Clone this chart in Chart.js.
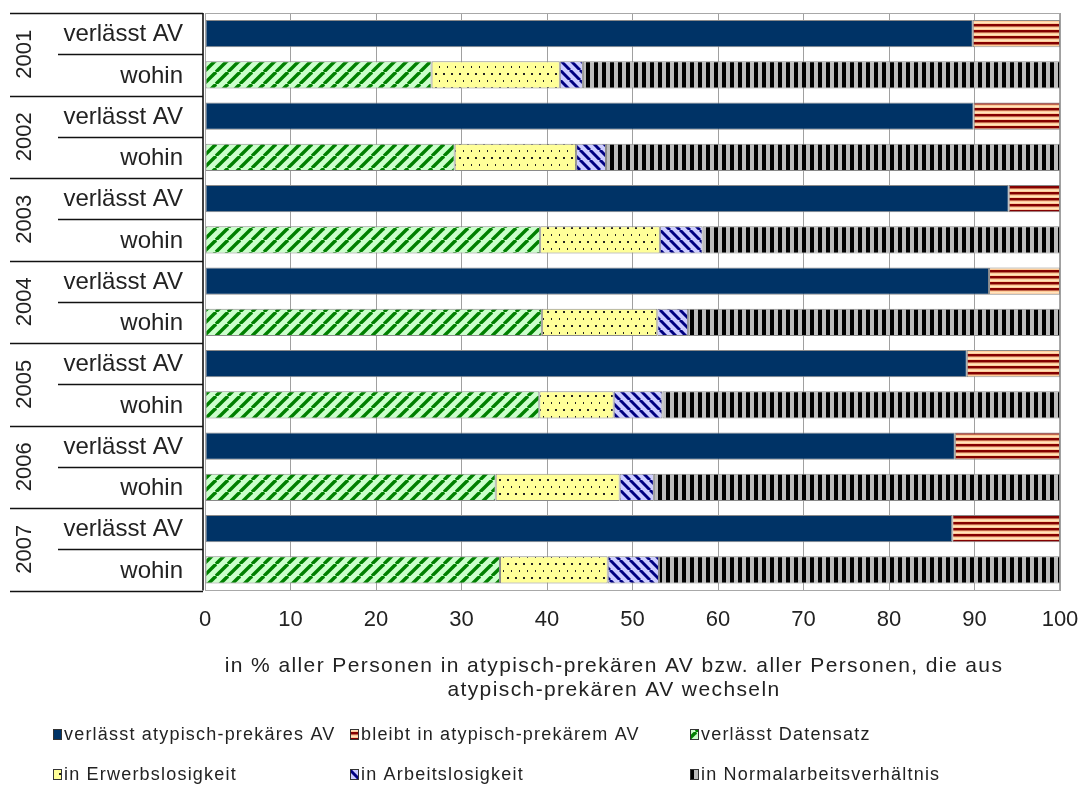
<!DOCTYPE html>
<html>
<head>
<meta charset="utf-8">
<script src="https://cdn.jsdelivr.net/npm/chart.js@4.4.1/dist/chart.umd.min.js"></script>
<style>
  html, body { margin: 0; padding: 0; background: #ffffff; }
  canvas { display: block; }
</style>
</head>
<body>
<canvas id="chart" width="1082" height="787"></canvas>
<script>
// Jahre und Zeilenbeschriftungen
const years = ['2001', '2002', '2003', '2004', '2005', '2006', '2007'];
const rowLabels = ['verlässt AV', 'wohin'];

// Anteile in % (Zeile "verlässt AV")
const verlaesstAV = [89.8, 89.9, 94.0, 91.7, 89.1, 87.7, 87.4];
const bleibtAV    = [10.2, 10.1, 6.0, 8.3, 10.9, 12.3, 12.6];

// Anteile in % (Zeile "wohin")
const verlaesstDatensatz = [26.5, 29.2, 39.2, 39.4, 39.1, 34.0, 34.5];
const erwerbslosigkeit   = [15.0, 14.2, 14.0, 13.5, 8.7, 14.5, 12.6];
const arbeitslosigkeit   = [2.7, 3.5, 5.0, 3.6, 5.7, 4.0, 6.0];
const normalarbeit       = [55.8, 53.1, 41.8, 43.5, 46.5, 47.5, 46.9];

const xTicks = [0, 10, 20, 30, 40, 50, 60, 70, 80, 90, 100];

const seriesNames = [
  'verlässt atypisch-prekäres AV',
  'bleibt in atypisch-prekärem AV',
  'verlässt Datensatz',
  'in Erwerbslosigkeit',
  'in Arbeitslosigkeit',
  'in Normalarbeitsverhältnis'
];

const axisTitle = [
  'in % aller Personen in atypisch-prekären AV bzw. aller Personen, die aus',
  'atypisch-prekären AV wechseln'
];

const FONT = '"Liberation Sans", Arial, sans-serif';

// --- Füllmuster ---------------------------------------------------------
function tile(w, h, draw) {
  const c = document.createElement('canvas');
  c.width = w; c.height = h;
  const g = c.getContext('2d');
  draw(g, w, h);
  return document.createElement('canvas').getContext('2d').createPattern(c, 'repeat');
}

const patRed = tile(6, 6, (g) => {
  g.fillStyle = '#ffcc99'; g.fillRect(0, 0, 6, 6);
  g.fillStyle = '#ffe4c0'; g.fillRect(0, 4, 6, 1);
  g.fillStyle = '#840000'; g.fillRect(0, 0, 6, 2.5);
});

const patGreen = tile(12, 12, (g, w, h) => {
  g.fillStyle = '#ccffcc'; g.fillRect(0, 0, w, h);
  g.strokeStyle = '#008000'; g.lineWidth = 3.4;
  for (let k = -1; k <= 1; k++) {
    g.beginPath(); g.moveTo(k * w, h); g.lineTo(k * w + w, 0); g.stroke();
  }
});

const patYellow = tile(8, 14, (g) => {
  g.fillStyle = '#ffff99'; g.fillRect(0, 0, 8, 14);
  g.fillStyle = '#222222';
  g.fillRect(3, 3, 2, 2);
  g.fillRect(7, 10, 2, 2);
});

const patBlue = tile(10, 10, (g, w, h) => {
  g.fillStyle = '#ccccff'; g.fillRect(0, 0, w, h);
  g.strokeStyle = '#000080'; g.lineWidth = 3;
  for (let k = -1; k <= 1; k++) {
    g.beginPath(); g.moveTo(k * w, 0); g.lineTo(k * w + w, h); g.stroke();
  }
});

const patBlack = tile(8, 8, (g) => {
  g.fillStyle = '#bcbcbc'; g.fillRect(0, 0, 8, 8);
  g.fillStyle = '#000000'; g.fillRect(2, 0, 4, 8);
});

const fills = ['#003366', patRed, patGreen, patYellow, patBlue, patBlack];

// --- Daten für die 14 Zeilen (je Jahr: "verlässt AV", "wohin") ---------
const labels = [];
years.forEach(() => labels.push(rowLabels[0], rowLabels[1]));

function onRow(values, rowIndex) {
  const out = [];
  values.forEach((v) => {
    out.push(rowIndex === 0 ? v : null);
    out.push(rowIndex === 1 ? v : null);
  });
  return out;
}

const seriesValues = [
  [verlaesstAV, 0], [bleibtAV, 0],
  [verlaesstDatensatz, 1], [erwerbslosigkeit, 1], [arbeitslosigkeit, 1], [normalarbeit, 1]
];

const datasets = seriesValues.map(([vals, row], i) => ({
  label: seriesNames[i],
  data: onRow(vals, row),
  backgroundColor: fills[i],
  borderColor: '#8a8a8a',
  borderWidth: 1,
  borderSkipped: false,
  barPercentage: 0.66,
  categoryPercentage: 1.0
}));

// --- Tabellenrahmen links, Jahres- und Zeilenbeschriftung ---------------
const tablePlugin = {
  id: 'tableLabels',
  beforeDatasetsDraw(chart) {
    const { ctx, chartArea: a } = chart;
    ctx.save();
    ctx.strokeStyle = '#a8a8a8';
    ctx.lineWidth = 1;
    ctx.strokeRect(Math.round(a.left) + 0.5, Math.round(a.top) + 0.5,
                   Math.round(a.right - a.left) - 1, Math.round(a.bottom - a.top) - 1);
    ctx.restore();
  },
  afterDraw(chart) {
    const { ctx, chartArea: a } = chart;
    const y = chart.scales.y;
    const lineX = a.left - 2;
    ctx.save();
    ctx.strokeStyle = '#111111';
    ctx.lineWidth = 1.6;

    // senkrechte Linie am Diagrammrand
    ctx.beginPath();
    ctx.moveTo(lineX, a.top);
    ctx.lineTo(lineX, a.bottom);
    ctx.stroke();

    // Trennlinien
    const n = labels.length;
    for (let i = 0; i <= n; i++) {
      let yy;
      if (i === 0) yy = a.top;
      else if (i === n) yy = a.bottom;
      else yy = (y.getPixelForValue(i - 1) + y.getPixelForValue(i)) / 2;
      yy = Math.round(yy) + 0.5;
      const x0 = (i % 2 === 0) ? 10 : 58;
      ctx.beginPath();
      ctx.moveTo(x0, yy);
      ctx.lineTo(lineX, yy);
      ctx.stroke();
    }

    // Zeilenbeschriftung
    ctx.fillStyle = '#222222';
    ctx.font = '24px ' + FONT;
    ctx.textAlign = 'right';
    ctx.textBaseline = 'middle';
    labels.forEach((lab, i) => {
      ctx.fillText(lab, 183, y.getPixelForValue(i) + 1);
    });

    // Jahre, senkrecht
    ctx.font = '22px ' + FONT;
    ctx.textAlign = 'center';
    years.forEach((yr, k) => {
      const cy = (y.getPixelForValue(2 * k) + y.getPixelForValue(2 * k + 1)) / 2;
      ctx.save();
      ctx.translate(25, cy);
      ctx.rotate(-Math.PI / 2);
      ctx.fillText(yr, 0, 0);
      ctx.restore();
    });

    // Achsentitel
    ctx.font = '21px ' + FONT;
    ctx.letterSpacing = '1.4px';
    ctx.fillText(axisTitle[0], 614, 666);
    ctx.fillText(axisTitle[1], 614, 690);

    // Legende (3 Spalten, 2 Zeilen)
    const colX = [53, 350, 690];
    const rowY = [734, 774];
    ctx.font = '18px ' + FONT;
    ctx.letterSpacing = '1.2px';
    ctx.textAlign = 'left';
    seriesNames.forEach((name, i) => {
      const cx = colX[i % 3];
      const cy = rowY[Math.floor(i / 3)];
      ctx.fillStyle = fills[i];
      ctx.fillRect(cx, cy - 5, 8, 10);
      ctx.strokeStyle = '#333333';
      ctx.lineWidth = 1;
      ctx.strokeRect(cx + 0.5, cy - 4.5, 8, 10);
      ctx.fillStyle = '#222222';
      ctx.fillText(name, cx + 11, cy + 1);
    });
    ctx.restore();
  }
};

new Chart(document.getElementById('chart'), {
  type: 'bar',
  data: { labels, datasets },
  options: {
    indexAxis: 'y',
    responsive: false,
    animation: false,
    devicePixelRatio: 1,
    layout: { padding: { left: 205, top: 13, right: 22, bottom: 138 } },
    plugins: { legend: { display: false }, tooltip: { enabled: false } },
    scales: {
      x: {
        stacked: true,
        min: 0,
        max: 100,
        afterBuildTicks: (scale) => { scale.ticks = xTicks.map((v) => ({ value: v })); },
        afterFit: (scale) => { scale.paddingLeft = 0; scale.paddingRight = 0; },
        ticks: {
          color: '#222222',
          font: { family: FONT, size: 22 },
          padding: 16
        },
        grid: { color: '#a0a0a0', lineWidth: 1, drawTicks: false },
        border: { display: false }
      },
      y: {
        stacked: true,
        display: false
      }
    }
  },
  plugins: [tablePlugin]
});
</script>
</body>
</html>
